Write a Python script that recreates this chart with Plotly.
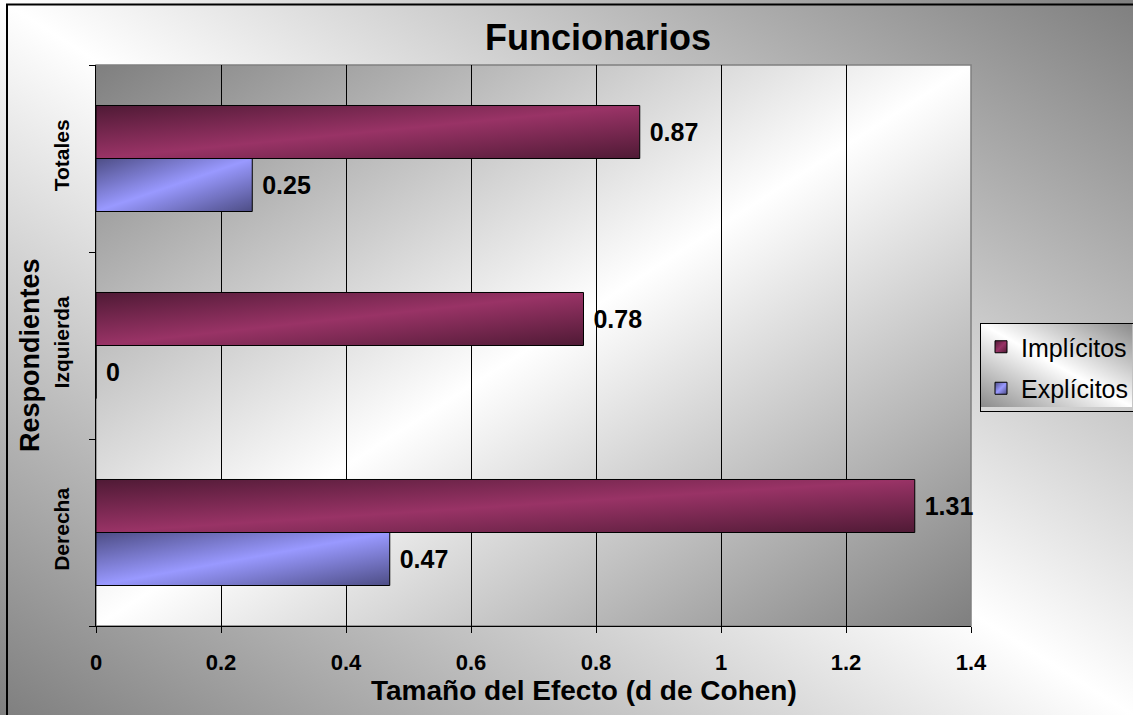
import base64
import plotly.graph_objects as go

# ---------------- data ----------------
categories = ["Derecha", "Izquierda", "Totales"]
implicitos = [1.31, 0.78, 0.87]
explicitos = [0.47, 0, 0.25]
x_tick_vals = [0, 0.2, 0.4, 0.6, 0.8, 1.0, 1.2, 1.4]
x_tick_text = ["0", "0.2", "0.4", "0.6", "0.8", "1", "1.2", "1.4"]
series_names = ["Implícitos", "Explícitos"]
title_text = "Funcionarios"
x_title = "Tamaño del Efecto (d de Cohen)"
y_title = "Respondientes"

# ---------------- style ----------------
FONT = "Arial, Liberation Sans, sans-serif"
W, H = 1133, 715
ML, MR, MT, MB = 96, 162, 65, 89
PW, PH = W - ML - MR, H - MT - MB
COL_IMP, COL_IMP_DARK = "#993366", "#4f1a35"
COL_EXP, COL_EXP_DARK = "#9999FF", "#4d4d85"


def grad_uri(x1, y1, x2, y2, stops):
    st = "".join(f"<stop offset='{o}' stop-color='{c}'/>" for o, c in stops)
    svg = (
        "<svg xmlns='http://www.w3.org/2000/svg' width='100' height='100' "
        "viewBox='0 0 100 100' preserveAspectRatio='none'><defs>"
        f"<linearGradient id='g' x1='{x1}' y1='{y1}' x2='{x2}' y2='{y2}'>{st}</linearGradient>"
        "</defs><rect x='0' y='0' width='100' height='100' fill='url(#g)'/></svg>"
    )
    return "data:image/svg+xml;base64," + base64.b64encode(svg.encode()).decode()


gray_white_gray = [(0, "#7f7f7f"), (0.5, "#ffffff"), (1, "#7f7f7f")]
chart_bg = grad_uri(1, 0, 0, 1, gray_white_gray)
plot_bg = grad_uri(0, 0, 1, 1, gray_white_gray)
legend_bg = grad_uri(1, 0, 0, 1, [(0, "#8a8a8a"), (0.5, "#ffffff"), (1, "#8a8a8a")])


def px_x(px):
    return (px - ML) / PW


def px_y(py):
    return (H - MB - py) / PH


fig = go.Figure()
fig.add_trace(go.Bar(
    y=categories, x=explicitos, orientation="h", name=series_names[1],
    marker=dict(color=COL_EXP, line=dict(color="black", width=1)),
    texttemplate="\u00a0%{x}", textposition="outside",
    textfont=dict(family=FONT, size=25, color="black", weight="bold"),
    cliponaxis=False, legendrank=2, legendgroup="e",
))
fig.add_trace(go.Bar(
    y=categories, x=implicitos, orientation="h", name=series_names[0],
    marker=dict(color=COL_IMP, line=dict(color="black", width=1)),
    texttemplate="\u00a0%{x}", textposition="outside",
    textfont=dict(family=FONT, size=25, color="black", weight="bold"),
    cliponaxis=False, legendrank=1, legendgroup="i",
))

fig.update_layout(
    width=W, height=H, autosize=False,
    margin=dict(l=ML, r=MR, t=MT, b=MB, pad=0, autoexpand=False),
    paper_bgcolor="white", plot_bgcolor="rgba(0,0,0,0)",
    font=dict(family=FONT, color="black"),
    barmode="group", bargap=0.433, bargroupgap=0,
    title=dict(text=title_text, x=598 / W, xref="container", xanchor="center",
               y=1 - 37 / H, yref="container", yanchor="middle",
               font=dict(family=FONT, size=36, weight="bold", color="black")),
    xaxis=dict(range=[0, 1.4], tickmode="array", tickvals=x_tick_vals, ticktext=x_tick_text,
               showgrid=True, gridcolor="black", gridwidth=1, zeroline=False,
               showline=True, linecolor="black", linewidth=1,
               ticks="outside", ticklen=6, tickcolor="black", ticklabelstandoff=11,
               tickfont=dict(family=FONT, size=22, weight="bold")),
    yaxis=dict(categoryorder="array", categoryarray=categories,
               showgrid=False, zeroline=False, showline=True, linecolor="black", linewidth=1,
               ticks="outside", tickson="boundaries", ticklen=6, tickcolor="black",
               tickangle=-90, ticklabelstandoff=18,
               tickfont=dict(family=FONT, size=21, weight="bold")),
    annotations=[
        dict(text=x_title, xref="paper", yref="paper", x=px_x(584), y=px_y(690),
             xanchor="center", yanchor="middle", showarrow=False,
             font=dict(family=FONT, size=28, weight="bold", color="black")),
        dict(text=y_title, xref="paper", yref="paper", x=px_x(30), y=px_y(355),
             xanchor="center", yanchor="middle", showarrow=False, textangle=-90,
             font=dict(family=FONT, size=27, weight="bold", color="black")),
    ],
    legend=dict(x=px_x(980), y=px_y(323), xanchor="left", yanchor="top",
                xref="paper", yref="paper",
                bgcolor="rgba(0,0,0,0)", bordercolor="black", borderwidth=1,
                font=dict(family=FONT, size=25, color="black"),
                tracegroupgap=6),
    images=[
        dict(source=chart_bg, xref="paper", yref="paper", x=px_x(0), y=px_y(0),
             sizex=W / PW, sizey=H / PH, xanchor="left", yanchor="top",
             sizing="stretch", layer="below"),
        dict(source=plot_bg, xref="paper", yref="paper", x=0, y=1, sizex=1, sizey=1,
             xanchor="left", yanchor="top", sizing="stretch", layer="below"),
        dict(source=legend_bg, xref="paper", yref="paper", x=px_x(980), y=px_y(323),
             sizex=152 / PW, sizey=84 / PH, xanchor="left", yanchor="top",
             sizing="stretch", layer="below"),
    ],
    shapes=[
        dict(type="rect", xref="paper", yref="paper", x0=px_x(7), x1=px_x(1160),
             y0=px_y(740), y1=px_y(4.5), line=dict(color="black", width=2),
             fillcolor="rgba(0,0,0,0)", layer="below"),
        dict(type="rect", xref="paper", yref="paper", x0=0, x1=1, y0=0, y1=1,
             line=dict(color="#808080", width=1.5), fillcolor="rgba(0,0,0,0)",
             layer="below"),
    ],
)

# page margin removal + diagonal shading of the bars (style only)
post_js = """
document.body.style.margin='0';
document.body.style.overflow='hidden';
var gd = document.getElementById('{plot_id}');
var ns = 'http://www.w3.org/2000/svg';
var svg = gd.querySelector('svg.main-svg');
var defs = svg.querySelector('defs');
if (!defs) { defs = document.createElementNS(ns, 'defs'); svg.insertBefore(defs, svg.firstChild); }
function mk(id, dark, mid) {
  var g = document.createElementNS(ns, 'linearGradient');
  g.setAttribute('id', id);
  g.setAttribute('x1', '0'); g.setAttribute('y1', '0');
  g.setAttribute('x2', '1'); g.setAttribute('y2', '1');
  [[0, dark], [0.5, mid], [1, dark]].forEach(function(s) {
    var st = document.createElementNS(ns, 'stop');
    st.setAttribute('offset', s[0]); st.setAttribute('stop-color', s[1]);
    g.appendChild(st);
  });
  defs.appendChild(g);
}
mk('gradExp', '%s', '%s');
mk('gradImp', '%s', '%s');
var ids = ['gradExp', 'gradImp'];
gd.querySelectorAll('.barlayer .trace').forEach(function(tr, i) {
  tr.querySelectorAll('.point path').forEach(function(p) { p.style.fill = 'url(#' + ids[i] + ')'; });
});
gd.querySelectorAll('.legend .traces').forEach(function(tr) {
  var d = tr.__data__; var idx = (d && d[0] && d[0].trace) ? d[0].trace.index : null;
  if (idx === null) return;
  tr.querySelectorAll('.legendpoints path').forEach(function(p) { p.style.fill = 'url(#' + ids[idx] + ')'; });
});
""" % (COL_EXP_DARK, COL_EXP, COL_IMP_DARK, COL_IMP)

fig.write_html("out.html", config={"displayModeBar": False}, post_script=post_js)
